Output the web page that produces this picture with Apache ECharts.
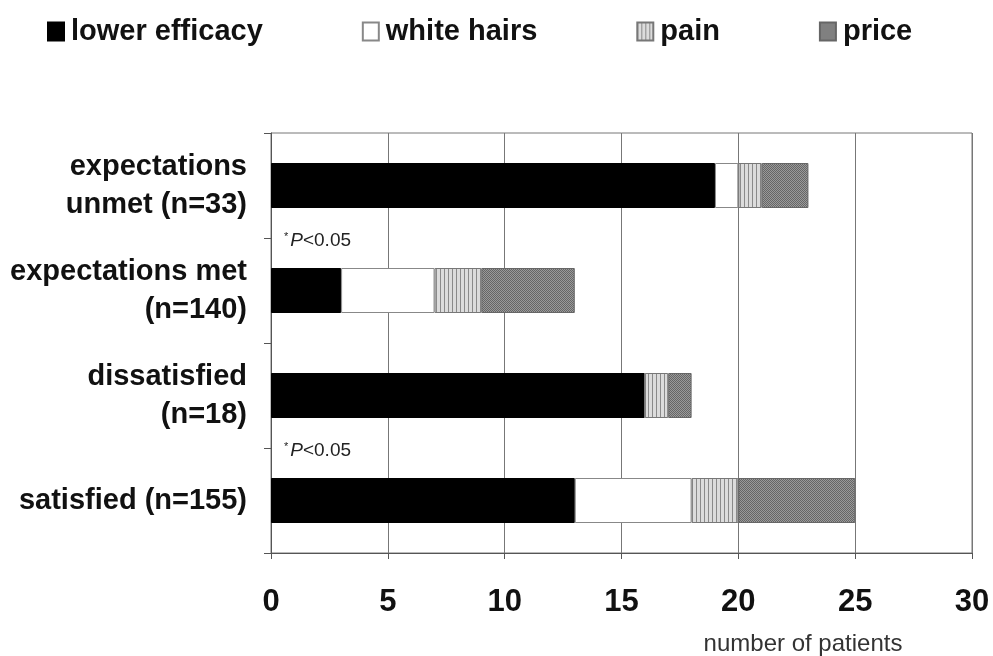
<!DOCTYPE html>
<html>
<head>
<meta charset="utf-8">
<script src="https://cdn.jsdelivr.net/npm/echarts@6/dist/echarts.min.js"></script>
<style>
    html, body { margin: 0; padding: 0; background: #fff; }
    #chart { width: 993px; height: 656px; }
</style>
</head>
<body>
<div id="chart"></div>
<script>
    // groups shown top to bottom
    var groups = ['expectations\nunmet (n=33)', 'expectations met\n(n=140)', 'dissatisfied\n(n=18)', 'satisfied (n=155)'];
    var lowerEfficacy = [19, 3, 16, 13];
    var whiteHairs = [1, 4, 0, 5];
    var pain = [1, 2, 1, 2];
    var price = [2, 4, 1, 5];
    // which groups get the "*P<0.05" note
    var significant = [false, true, false, true];

    var font = '"Liberation Sans", Arial, sans-serif';

    function stripes() {
        var c = document.createElement('canvas');
        c.width = 4; c.height = 4;
        var g = c.getContext('2d');
        g.fillStyle = '#dcdcdc';
        g.fillRect(0, 0, 4, 4);
        g.fillStyle = '#8a8a8a';
        g.fillRect(0, 0, 1, 4);
        return c;
    }
    function dots() {
        var c = document.createElement('canvas');
        c.width = 2; c.height = 2;
        var g = c.getContext('2d');
        g.fillStyle = '#9a9a9a';
        g.fillRect(0, 0, 2, 2);
        g.fillStyle = '#666';
        g.fillRect(0, 0, 1, 1);
        g.fillRect(1, 1, 1, 1);
        return c;
    }

    var painFill = { image: stripes(), repeat: 'repeat' };
    var priceFill = { image: dots(), repeat: 'repeat' };

    var pNote = {
        show: true,
        position: [13, -37],
        formatter: '{s|*}{i|P}{n|<0.05}',
        rich: {
            s: { fontSize: 11, color: '#222', fontFamily: font, verticalAlign: 'top', lineHeight: 20, padding: [0, 2, 0, 0] },
            i: { fontSize: 19, fontStyle: 'italic', color: '#222', fontFamily: font, lineHeight: 20 },
            n: { fontSize: 19, color: '#222', fontFamily: font, lineHeight: 20 }
        }
    };

    var myChart = echarts.init(document.getElementById('chart'));
    myChart.setOption({
        backgroundColor: '#fff',
        animation: false,
        legend: {
            left: 42,
            top: 12,
            icon: 'rect',
            itemWidth: 16,
            itemHeight: 18,
            itemGap: 99,
            textStyle: { fontSize: 29, fontWeight: 'bold', color: '#111', fontFamily: font, padding: [0, 0, 0, 2] },
            data: ['lower efficacy', 'white hairs', 'pain', 'price']
        },
        grid: {
            left: 271,
            right: 21,
            top: 133,
            bottom: 103,
            show: true,
            borderColor: '#777',
            borderWidth: 1
        },
        xAxis: {
            type: 'value',
            min: 0,
            max: 30,
            interval: 5,
            axisLine: { show: true, lineStyle: { color: '#555' } },
            axisTick: { show: true, length: 6, lineStyle: { color: '#555' } },
            splitLine: { show: true, lineStyle: { color: '#777' } },
            axisLabel: { margin: 34, fontSize: 31, fontWeight: 'bold', color: '#111', fontFamily: font },
            name: 'number of patients',
            nameLocation: 'end',
            nameGap: -169,
            nameTextStyle: {
                fontSize: 24, color: '#333', fontFamily: font,
                align: 'center', verticalAlign: 'top', padding: [79, 0, 0, 0]
            }
        },
        yAxis: {
            type: 'category',
            inverse: true,
            data: groups,
            axisLine: { show: true, lineStyle: { color: '#555' } },
            axisTick: { show: true, length: 7, lineStyle: { color: '#555' } },
            axisLabel: {
                margin: 24,
                fontSize: 29,
                lineHeight: 38,
                fontWeight: 'bold',
                color: '#111',
                fontFamily: font,
                align: 'right',
                padding: [4, 0, 0, 0]
            }
        },
        series: [{
            name: 'lower efficacy',
            type: 'bar',
            stack: 'total',
            barWidth: 45,
            itemStyle: { color: '#000', borderColor: '#000', borderWidth: 1 },
            data: lowerEfficacy.map(function (v, i) {
                return significant[i] ? { value: v, label: pNote } : v;
            })
        }, {
            name: 'white hairs',
            type: 'bar',
            stack: 'total',
            itemStyle: { color: '#fff', borderColor: '#888', borderWidth: 1 },
            data: whiteHairs
        }, {
            name: 'pain',
            type: 'bar',
            stack: 'total',
            itemStyle: { color: painFill, borderColor: '#777', borderWidth: 1 },
            data: pain
        }, {
            name: 'price',
            type: 'bar',
            stack: 'total',
            itemStyle: { color: priceFill, borderColor: '#666', borderWidth: 1 },
            data: price
        }]
    });
</script>
</body>
</html>
